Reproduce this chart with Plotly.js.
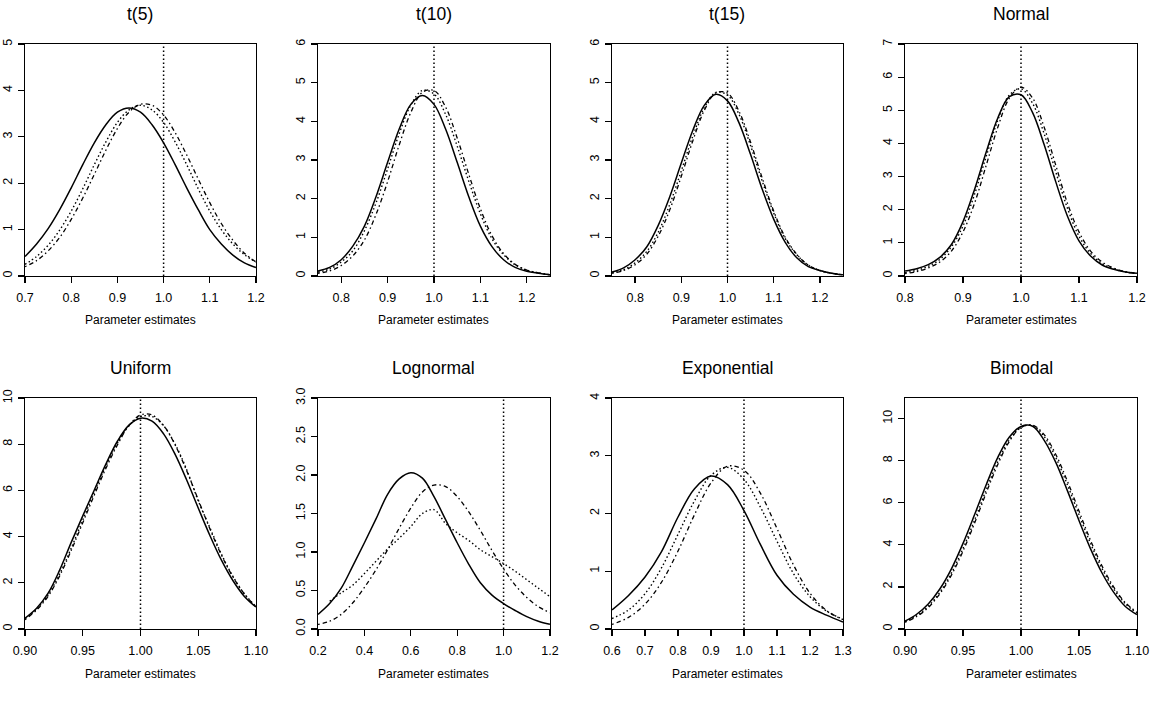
<!DOCTYPE html>
<html>
<head>
<meta charset="utf-8">
<script src="https://cdn.plot.ly/plotly-3.0.1.min.js"></script>
<style>
  html, body { margin: 0; padding: 0; background: #fff; }
  #chart { width: 1154px; height: 701px; }
</style>
</head>
<body>
<div id="chart"></div>
<script>
// Kernel density curves of parameter estimates for three estimators (A solid, B dash-dot, C dotted)
// under eight error distributions. The dotted vertical line marks the true parameter value.

const panelTitles = ['t(5)', 't(10)', 't(15)', 'Normal', 'Uniform', 'Lognormal', 'Exponential', 'Bimodal'];
const trueValue = [1.0];

// t(5)
const xT5 = [0.700,0.725,0.750,0.775,0.800,0.825,0.850,0.875,0.900,0.925,0.950,0.975,1.000,1.025,1.050,1.075,1.100,1.125,1.150,1.175,1.200];
const t5A = [0.42,0.69,1.02,1.43,1.90,2.40,2.87,3.26,3.53,3.62,3.53,3.26,2.87,2.40,1.90,1.43,1.00,0.69,0.45,0.28,0.18];
const t5B = [0.20,0.33,0.54,0.83,1.22,1.68,2.19,2.71,3.18,3.53,3.70,3.68,3.47,3.09,2.61,2.09,1.58,1.13,0.77,0.49,0.30];
const t5C = [0.25,0.42,0.66,0.99,1.40,1.88,2.40,2.89,3.31,3.58,3.68,3.58,3.31,2.89,2.40,1.88,1.40,1.00,0.69,0.46,0.30];

// t(10)
const xT10 = [0.750,0.775,0.800,0.825,0.850,0.875,0.900,0.925,0.950,0.975,1.000,1.025,1.050,1.075,1.100,1.125,1.150,1.175,1.200,1.225,1.250];
const t10A = [0.13,0.22,0.42,0.77,1.29,2.05,2.94,3.80,4.44,4.67,4.44,3.80,2.94,2.05,1.29,0.76,0.42,0.22,0.12,0.07,0.03];
const t10B = [0.07,0.13,0.27,0.52,0.93,1.59,2.44,3.39,4.23,4.75,4.80,4.37,3.57,2.63,1.74,1.04,0.58,0.30,0.15,0.08,0.03];
const t10C = [0.10,0.18,0.36,0.65,1.17,1.89,2.77,3.68,4.42,4.80,4.71,4.18,3.36,2.45,1.61,0.96,0.55,0.29,0.15,0.08,0.03];

// t(15)
const xT15 = [0.750,0.775,0.800,0.825,0.850,0.875,0.900,0.925,0.950,0.975,1.000,1.025,1.050,1.075,1.100,1.125,1.150,1.175,1.200,1.225,1.250];
const t15A = [0.10,0.21,0.42,0.75,1.31,2.05,2.92,3.77,4.42,4.70,4.53,3.96,3.14,2.25,1.47,0.87,0.47,0.24,0.14,0.07,0.03];
const t15B = [0.07,0.14,0.29,0.56,1.03,1.71,2.58,3.50,4.29,4.74,4.73,4.26,3.46,2.54,1.68,1.00,0.56,0.28,0.14,0.07,0.03];
const t15C = [0.08,0.16,0.34,0.63,1.13,1.85,2.72,3.62,4.36,4.75,4.68,4.18,3.37,2.46,1.63,0.97,0.55,0.28,0.14,0.07,0.03];

// Normal
const xNormal = [0.80,0.82,0.84,0.86,0.88,0.90,0.92,0.94,0.96,0.98,1.00,1.02,1.04,1.06,1.08,1.10,1.12,1.14,1.16,1.18,1.20];
const normalA = [0.15,0.22,0.34,0.56,0.95,1.64,2.62,3.74,4.77,5.41,5.47,4.93,3.96,2.84,1.81,1.06,0.60,0.33,0.20,0.12,0.08];
const normalB = [0.07,0.13,0.24,0.42,0.75,1.33,2.20,3.34,4.49,5.37,5.70,5.37,4.49,3.34,2.20,1.33,0.75,0.42,0.24,0.13,0.08];
const normalC = [0.10,0.17,0.29,0.50,0.88,1.51,2.47,3.61,4.70,5.46,5.65,5.21,4.29,3.14,2.05,1.20,0.68,0.37,0.21,0.12,0.07];

// Uniform
const xUniform = [0.90,0.91,0.92,0.93,0.94,0.95,0.96,0.97,0.98,0.99,1.00,1.01,1.02,1.03,1.04,1.05,1.06,1.07,1.08,1.09,1.10];
const uniformA = [0.47,0.90,1.55,2.55,3.75,4.90,6.02,7.14,8.13,8.83,9.13,9.00,8.45,7.56,6.45,5.24,4.06,2.99,2.10,1.41,0.95];
const uniformB = [0.40,0.82,1.42,2.30,3.40,4.60,5.80,6.95,7.97,8.81,9.27,9.27,8.81,7.97,6.85,5.60,4.35,3.21,2.26,1.51,0.96];
const uniformC = [0.45,0.86,1.48,2.38,3.50,4.72,5.92,7.05,8.05,8.80,9.20,9.20,8.80,8.00,6.90,5.55,4.40,3.25,2.28,1.52,0.97];

// Lognormal
const xLognormal = [0.20,0.25,0.30,0.35,0.40,0.45,0.50,0.55,0.60,0.65,0.70,0.75,0.80,0.85,0.90,0.95,1.00,1.05,1.10,1.15,1.20];
const lognormalA = [0.19,0.33,0.53,0.82,1.12,1.43,1.75,1.95,2.03,1.96,1.72,1.42,1.12,0.84,0.60,0.44,0.33,0.24,0.16,0.10,0.06];
const lognormalB = [0.06,0.10,0.19,0.34,0.54,0.77,1.03,1.31,1.57,1.78,1.87,1.85,1.72,1.52,1.28,1.02,0.78,0.57,0.41,0.29,0.21];
const lognormalC = [null,0.36,0.47,0.57,0.72,0.88,1.04,1.18,1.33,1.50,1.55,1.37,1.25,1.15,1.03,0.94,0.85,0.75,0.64,0.53,0.42];

// Exponential
const xExponential = [0.60,0.65,0.70,0.75,0.80,0.85,0.90,0.95,1.00,1.05,1.10,1.15,1.20,1.25,1.30];
const exponentialA = [0.33,0.58,0.90,1.34,1.94,2.43,2.65,2.50,2.05,1.46,0.93,0.60,0.38,0.24,0.12];
const exponentialB = [0.08,0.20,0.43,0.81,1.35,1.98,2.53,2.82,2.75,2.35,1.74,1.11,0.62,0.32,0.16];
const exponentialC = [0.18,0.33,0.61,1.06,1.64,2.22,2.66,2.80,2.59,2.11,1.52,0.96,0.56,0.31,0.17];

// Bimodal
const xBimodal = [0.90,0.91,0.92,0.93,0.94,0.95,0.96,0.97,0.98,0.99,1.00,1.01,1.02,1.03,1.04,1.05,1.06,1.07,1.08,1.09,1.10];
const bimodalA = [0.37,0.70,1.19,1.90,2.86,4.07,5.44,6.86,8.16,9.13,9.63,9.64,8.97,7.92,6.58,5.16,3.81,2.65,1.74,1.07,0.68];
const bimodalB = [0.32,0.59,1.02,1.67,2.56,3.70,5.04,6.47,7.82,8.92,9.58,9.69,9.24,8.30,7.03,5.61,4.21,2.98,1.99,1.25,0.80];
const bimodalC = [0.34,0.63,1.08,1.74,2.66,3.83,5.18,6.62,7.95,9.00,9.60,9.67,9.15,8.15,6.86,5.44,4.06,2.86,1.90,1.20,0.76];

// Axis settings per panel: [min, max, tick step, tick format]
const xAxisSpecs = [
  [0.70, 1.20, 0.1, '.1f'], [0.75, 1.25, 0.1, '.1f'], [0.75, 1.25, 0.1, '.1f'], [0.80, 1.20, 0.1, '.1f'],
  [0.90, 1.10, 0.05, '.2f'], [0.20, 1.20, 0.2, '.1f'], [0.60, 1.30, 0.1, '.1f'], [0.90, 1.10, 0.05, '.2f']
];
const yAxisSpecs = [
  [0, 5, 1, 'd'], [0, 6, 1, 'd'], [0, 6, 1, 'd'], [0, 7, 1, 'd'],
  [0, 10, 2, 'd'], [0, 3, 0.5, '.1f'], [0, 4, 1, 'd'], [0, 10.98, 2, 'd']
];

const panelData = [
  [xT5, t5A, t5B, t5C],
  [xT10, t10A, t10B, t10C],
  [xT15, t15A, t15B, t15C],
  [xNormal, normalA, normalB, normalC],
  [xUniform, uniformA, uniformB, uniformC],
  [xLognormal, lognormalA, lognormalB, lognormalC],
  [xExponential, exponentialA, exponentialB, exponentialC],
  [xBimodal, bimodalA, bimodalB, bimodalC]
];

const FONT = '"Liberation Sans", Arial, Helvetica, sans-serif';
const INK = '#000';

// Grid of plot boxes (paper fractions)
const colDomains = [[0.02166, 0.22184], [0.27556, 0.47660], [0.53033, 0.73050], [0.78423, 0.98527]];
const rowDomains = [[0.6063, 0.9372], [0.1027, 0.4322]];
const titleY = [0.9803, 0.4750];
const axisTitleY = [0.5442, 0.0388];

const lineStyles = [
  { width: 1.5, dash: 'solid' },
  { width: 1.3, dash: '1.5px,3px,4.5px,3px' },
  { width: 1.4, dash: '1.5px,2.5px' }
];

const traces = [];
const shapes = [];
const annotations = [];
const layout = {
  width: 1154,
  height: 701,
  margin: { l: 0, r: 0, t: 0, b: 0, pad: 0 },
  paper_bgcolor: '#fff',
  plot_bgcolor: '#fff',
  showlegend: false,
  font: { family: FONT, color: INK, size: 12 }
};

panelData.forEach((panel, i) => {
  const n = i === 0 ? '' : String(i + 1);
  const row = Math.floor(i / 4);
  const col = i % 4;
  const [xs, a, b, c] = panel;

  [a, b, c].forEach((ys, k) => {
    traces.push({
      type: 'scatter',
      mode: 'lines',
      x: xs,
      y: ys,
      xaxis: 'x' + n,
      yaxis: 'y' + n,
      connectgaps: false,
      hoverinfo: 'skip',
      line: { color: INK, width: lineStyles[k].width, dash: lineStyles[k].dash, shape: 'spline', smoothing: 1 }
    });
  });

  const xs_ = xAxisSpecs[i];
  const ys_ = yAxisSpecs[i];
  const xpad = (xs_[1] - xs_[0]) * 2e-4;
  const ypad = (ys_[1] - ys_[0]) * 2e-4;
  const common = {
    showgrid: false,
    zeroline: false,
    showline: true,
    mirror: true,
    linecolor: INK,
    linewidth: 1.3,
    ticks: 'outside',
    ticklen: 6,
    tickwidth: 1.3,
    tickcolor: INK,
    tick0: 0,
    tickfont: { family: FONT, size: 12.5, color: INK },
    fixedrange: true
  };
  layout['xaxis' + n] = Object.assign({}, common, {
    domain: colDomains[col],
    anchor: 'y' + n,
    range: [xs_[0] - xpad, xs_[1] + xpad],
    dtick: xs_[2],
    tickformat: xs_[3],
    ticklabelstandoff: 4
  });
  layout['yaxis' + n] = Object.assign({}, common, {
    domain: rowDomains[row],
    anchor: 'x' + n,
    range: [ys_[0] - ypad, ys_[1] + ypad],
    dtick: ys_[2],
    tickformat: ys_[3],
    tickangle: -90,
    ticklabelstandoff: 1
  });

  // True parameter value
  shapes.push({
    type: 'line',
    xref: 'x' + n,
    yref: 'y' + n + ' domain',
    x0: trueValue[0], x1: trueValue[0],
    y0: 0, y1: 1,
    line: { color: INK, width: 1.5, dash: '1.5px,2.5px' }
  });

  const cx = (colDomains[col][0] + colDomains[col][1]) / 2;
  annotations.push({
    text: panelTitles[i],
    xref: 'paper', yref: 'paper',
    x: cx, y: titleY[row],
    xanchor: 'center', yanchor: 'middle',
    showarrow: false,
    font: { family: FONT, size: 17.5, color: INK }
  });
  annotations.push({
    text: 'Parameter estimates',
    xref: 'paper', yref: 'paper',
    x: cx, y: axisTitleY[row],
    xanchor: 'center', yanchor: 'middle',
    showarrow: false,
    font: { family: FONT, size: 12, color: INK }
  });
});

layout.shapes = shapes;
layout.annotations = annotations;

Plotly.newPlot('chart', traces, layout, { staticPlot: true, displayModeBar: false });
</script>
</body>
</html>
